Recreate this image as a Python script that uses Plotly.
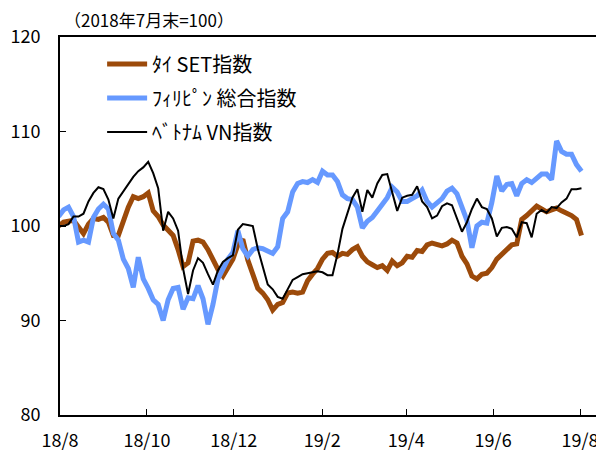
import pandas as pd
import plotly.graph_objects as go

# sampling dates (about every 3.5 days, 2018-07-31 .. 2019-08-02)
dates = pd.date_range("2018-07-31", "2019-08-02", periods=106)

thai_set = [
    100.0, 100.4, 100.5, 100.6, 99.9, 99.2, 100.2, 100.8, 100.7, 100.9,
    100.4, 99.0, 99.0, 100.6, 102.0, 103.1, 102.9, 103.1, 103.5, 101.6,
    101.0, 100.1, 99.6, 99.0, 97.5, 95.7, 96.1, 98.4, 98.5, 98.3,
    97.5, 96.4, 95.4, 94.7, 95.6, 96.5, 98.0, 98.6, 96.4, 94.7,
    93.4, 92.9, 92.2, 91.1, 91.7, 91.9, 92.9, 93.0, 92.9, 93.0,
    94.2, 94.9, 95.5, 96.5, 97.1, 97.2, 96.8, 97.1, 97.0, 97.5,
    97.8, 96.8, 96.2, 95.9, 95.6, 95.8, 95.3, 96.3, 95.8, 96.1,
    96.8, 96.7, 97.4, 97.3, 98.0, 98.2, 98.0, 97.9, 98.1, 98.5,
    98.2, 96.8, 96.0, 94.7, 94.4, 94.9, 95.0, 95.6, 96.5, 97.0,
    97.6, 98.0, 98.1, 100.7, 101.1, 101.7, 102.1, 101.8, 101.5, 101.7,
    101.9, 101.6, 101.4, 101.1, 100.7, 99.0,
]

phil_psei = [
    101.0, 101.7, 102.0, 101.0, 98.3, 98.5, 98.3, 100.9, 101.8, 102.3,
    101.8, 99.2, 98.5, 96.5, 95.5, 93.5, 96.7, 94.4, 93.4, 92.2,
    91.7, 90.0, 92.2, 93.4, 93.5, 91.2, 92.4, 92.3, 93.7, 92.3,
    89.6, 91.7, 94.4, 95.6, 96.5, 97.2, 99.5, 97.6, 96.8, 97.5,
    97.7, 97.6, 97.3, 97.1, 97.8, 100.8, 101.5, 103.6, 104.5, 104.7,
    104.6, 104.9, 104.6, 105.8, 105.4, 105.4, 104.7, 103.3, 102.9, 102.8,
    102.0, 99.8, 100.5, 100.9, 101.6, 102.2, 103.0, 104.1, 103.6, 102.6,
    102.6, 102.9, 103.2, 103.8, 102.6, 102.0, 102.4, 102.9, 103.7, 104.0,
    103.4, 101.8, 100.6, 97.7, 100.0, 100.4, 100.3, 102.5, 105.3, 103.7,
    104.4, 104.5, 103.2, 104.5, 104.9, 104.6, 105.0, 105.5, 105.5, 104.9,
    109.0, 107.9, 107.6, 107.6, 106.5, 105.8,
]

vn_index = [
    100.0, 100.0, 100.2, 101.0, 101.0, 101.3, 102.6, 103.5, 104.1, 103.9,
    102.8, 100.8, 102.9, 103.7, 104.4, 105.2, 105.8, 106.2, 106.8, 105.6,
    104.0, 99.5, 101.5, 100.8, 99.5, 95.5, 92.8, 95.3, 96.6, 96.1,
    94.9, 93.8, 95.3, 96.2, 96.6, 96.9, 99.6, 100.2, 100.1, 100.0,
    97.6, 95.6, 93.8, 93.3, 92.5, 92.3, 93.3, 94.3, 94.6, 94.9,
    95.0, 95.1, 95.2, 95.1, 94.8, 94.8, 97.0, 99.7, 101.4, 103.0,
    103.9, 101.5, 103.8, 103.0, 104.5, 105.4, 105.5, 103.5, 101.6, 103.0,
    103.2, 103.3, 104.2, 102.6, 102.0, 100.8, 101.1, 102.1, 102.4, 102.2,
    100.9, 99.4, 100.4, 101.8, 102.9, 102.0, 101.8, 100.8, 98.9, 99.8,
    99.9, 99.7, 98.8, 100.4, 100.3, 98.8, 101.3, 101.7, 101.4, 102.0,
    101.9, 102.5, 102.9, 103.9, 103.9, 104.0,
]

series_names = ["ﾀｲ SET指数", "ﾌｨﾘﾋﾟﾝ 総合指数", "ﾍﾞﾄﾅﾑ VN指数"]
tick_dates = ["2018-08-01", "2018-10-01", "2018-12-01", "2019-02-01",
              "2019-04-01", "2019-06-01", "2019-08-01"]
tick_labels = ["18/8", "18/10", "18/12", "19/2", "19/4", "19/6", "19/8"]
y_ticks = [80, 90, 100, 110, 120]
title_text = "（2018年7月末=100）"

FONT = "Noto Sans CJK JP"

fig = go.Figure()
styles = [
    dict(color="#9C4A0A", width=5),
    dict(color="#6699FF", width=5),
    dict(color="#000000", width=2),
]
for i, (name, vals) in enumerate(zip(series_names, [thai_set, phil_psei, vn_index])):
    fig.add_trace(go.Scatter(
        x=dates, y=vals, name=name, mode="lines",
        line=dict(**styles[i]), legendgroup=f"g{i}",
    ))

# the page body adds an 8px offset, so the figure is sized 8px smaller
fig.update_layout(
    width=596, height=447,
    margin=dict(l=48, r=2, t=29, b=40),
    paper_bgcolor="white", plot_bgcolor="white",
    font=dict(family=FONT, size=18, color="black"),
    showlegend=True,
    legend=dict(
        x=0.078, y=0.98, xanchor="left", yanchor="top",
        bgcolor="rgba(0,0,0,0)", borderwidth=0,
        font=dict(family=FONT, size=20, color="black"),
        tracegroupgap=5, itemwidth=40,
    ),
    annotations=[dict(
        text=title_text, xref="paper", yref="paper", x=0.0, y=1,
        xanchor="left", yanchor="middle", yshift=18, xshift=2,
        showarrow=False, font=dict(family=FONT, size=17, color="black"),
    )],
)
fig.update_xaxes(
    type="date", range=["2018-08-01", "2019-08-15"],
    tickvals=tick_dates, ticktext=tick_labels,
    showline=True, linewidth=2, linecolor="black", mirror=True,
    ticks="inside", ticklen=6, tickwidth=1, tickcolor="black",
    showgrid=False, zeroline=False, ticklabelstandoff=8,
    tickfont=dict(family=FONT, size=18),
)
fig.update_yaxes(
    range=[80, 120], tickvals=y_ticks,
    showline=True, linewidth=2, linecolor="black", mirror=True,
    ticks="inside", ticklen=6, tickwidth=1, tickcolor="black",
    showgrid=False, zeroline=False, ticklabelstandoff=14,
    tickfont=dict(family=FONT, size=18),
)

fig.write_html("out.html")
